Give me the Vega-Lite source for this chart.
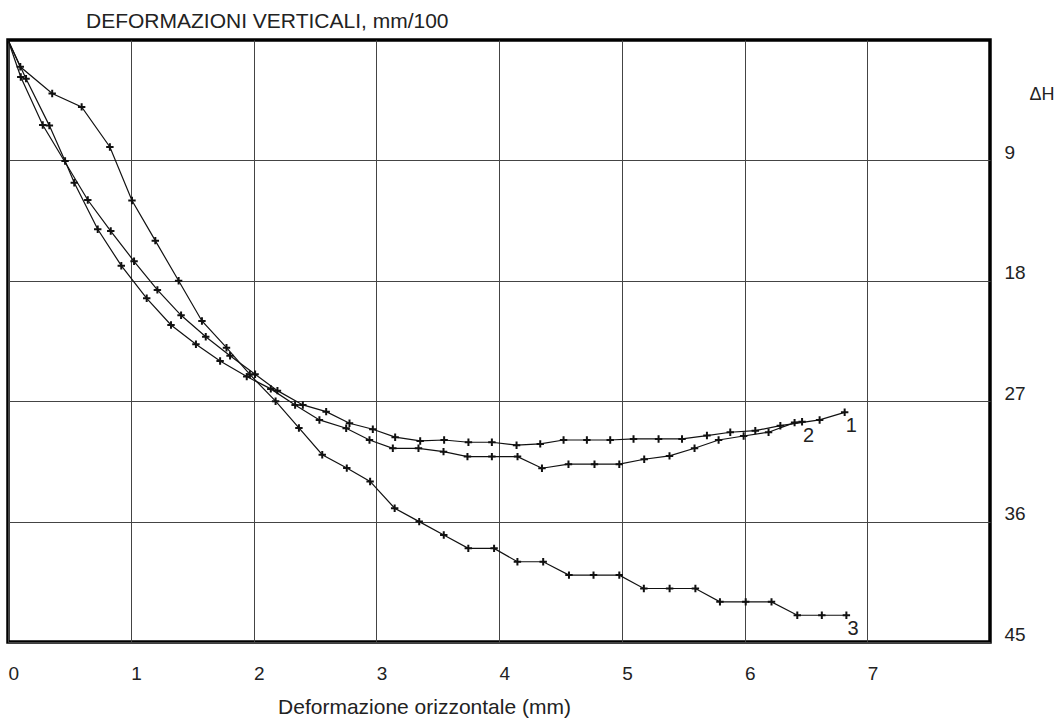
{
  "$schema": "https://vega.github.io/schema/vega-lite/v6.json",
  "width": 982,
  "height": 602,
  "autosize": {"type": "none"},
  "padding": {"left": 8, "top": 40, "right": 67, "bottom": 80},
  "background": "white",
  "config": {
    "font": "Liberation Sans",
    "view": {"stroke": "black", "strokeWidth": 3.5},
    "axis": {"domain": false, "ticks": false, "grid": true, "gridColor": "#444444", "gridWidth": 1, "labelColor": "#222222", "titleColor": "#222222", "labelFont": "Liberation Sans", "titleFont": "Liberation Sans", "titleFontWeight": "normal"}
  },
  "title": {
    "text": "DEFORMAZIONI VERTICALI, mm/100",
    "anchor": "start",
    "frame": "group",
    "fontSize": 21,
    "fontWeight": "normal",
    "color": "#222222",
    "font": "Liberation Sans",
    "baseline": "alphabetic",
    "dx": 78,
    "dy": 24,
    "offset": 13
  },
  "data": {
    "values": [
      {"s": "3", "i": 0, "x": 0, "y": 0, "p": false},
      {"s": "3", "i": 1, "x": 0.10, "y": 2},
      {"s": "3", "i": 2, "x": 0.36, "y": 4},
      {"s": "3", "i": 3, "x": 0.60, "y": 5},
      {"s": "3", "i": 4, "x": 0.83, "y": 8},
      {"s": "3", "i": 5, "x": 1.01, "y": 12},
      {"s": "3", "i": 6, "x": 1.20, "y": 15},
      {"s": "3", "i": 7, "x": 1.39, "y": 18},
      {"s": "3", "i": 8, "x": 1.58, "y": 21},
      {"s": "3", "i": 9, "x": 1.78, "y": 23},
      {"s": "3", "i": 10, "x": 1.97, "y": 25},
      {"s": "3", "i": 11, "x": 2.18, "y": 27},
      {"s": "3", "i": 12, "x": 2.37, "y": 29},
      {"s": "3", "i": 13, "x": 2.56, "y": 31},
      {"s": "3", "i": 14, "x": 2.76, "y": 32},
      {"s": "3", "i": 15, "x": 2.95, "y": 33},
      {"s": "3", "i": 16, "x": 3.15, "y": 35},
      {"s": "3", "i": 17, "x": 3.35, "y": 36},
      {"s": "3", "i": 18, "x": 3.55, "y": 37},
      {"s": "3", "i": 19, "x": 3.75, "y": 38},
      {"s": "3", "i": 20, "x": 3.96, "y": 38},
      {"s": "3", "i": 21, "x": 4.15, "y": 39},
      {"s": "3", "i": 22, "x": 4.36, "y": 39},
      {"s": "3", "i": 23, "x": 4.57, "y": 40},
      {"s": "3", "i": 24, "x": 4.77, "y": 40},
      {"s": "3", "i": 25, "x": 4.98, "y": 40},
      {"s": "3", "i": 26, "x": 5.18, "y": 41},
      {"s": "3", "i": 27, "x": 5.39, "y": 41},
      {"s": "3", "i": 28, "x": 5.60, "y": 41},
      {"s": "3", "i": 29, "x": 5.80, "y": 42},
      {"s": "3", "i": 30, "x": 6.01, "y": 42},
      {"s": "3", "i": 31, "x": 6.22, "y": 42},
      {"s": "3", "i": 32, "x": 6.43, "y": 43},
      {"s": "3", "i": 33, "x": 6.63, "y": 43},
      {"s": "3", "i": 34, "x": 6.83, "y": 43, "lab": "3"},

      {"s": "2", "i": 0, "x": 0, "y": 0, "p": false},
      {"s": "2", "i": 1, "x": 0.147, "y": 2.89},
      {"s": "2", "i": 2, "x": 0.337, "y": 6.40},
      {"s": "2", "i": 3, "x": 0.465, "y": 9.04},
      {"s": "2", "i": 4, "x": 0.540, "y": 10.67},
      {"s": "2", "i": 5, "x": 0.731, "y": 14.15},
      {"s": "2", "i": 6, "x": 0.923, "y": 16.87},
      {"s": "2", "i": 7, "x": 1.130, "y": 19.31},
      {"s": "2", "i": 8, "x": 1.328, "y": 21.30},
      {"s": "2", "i": 9, "x": 1.531, "y": 22.74},
      {"s": "2", "i": 10, "x": 1.728, "y": 24.0},
      {"s": "2", "i": 11, "x": 1.945, "y": 25.16},
      {"s": "2", "i": 12, "x": 2.141, "y": 26.08},
      {"s": "2", "i": 13, "x": 2.339, "y": 27.28},
      {"s": "2", "i": 14, "x": 2.537, "y": 28.40},
      {"s": "2", "i": 15, "x": 2.755, "y": 29.02},
      {"s": "2", "i": 16, "x": 2.945, "y": 29.90},
      {"s": "2", "i": 17, "x": 3.135, "y": 30.52},
      {"s": "2", "i": 18, "x": 3.344, "y": 30.52},
      {"s": "2", "i": 19, "x": 3.548, "y": 30.77},
      {"s": "2", "i": 20, "x": 3.743, "y": 31.14},
      {"s": "2", "i": 21, "x": 3.942, "y": 31.14},
      {"s": "2", "i": 22, "x": 4.151, "y": 31.14},
      {"s": "2", "i": 23, "x": 4.350, "y": 32.01},
      {"s": "2", "i": 24, "x": 4.566, "y": 31.71},
      {"s": "2", "i": 25, "x": 4.778, "y": 31.71},
      {"s": "2", "i": 26, "x": 4.980, "y": 31.71},
      {"s": "2", "i": 27, "x": 5.183, "y": 31.34},
      {"s": "2", "i": 28, "x": 5.389, "y": 31.09},
      {"s": "2", "i": 29, "x": 5.593, "y": 30.52},
      {"s": "2", "i": 30, "x": 5.789, "y": 29.90},
      {"s": "2", "i": 31, "x": 5.993, "y": 29.60},
      {"s": "2", "i": 32, "x": 6.196, "y": 29.32},
      {"s": "2", "i": 33, "x": 6.408, "y": 28.60},
      {"s": "2", "i": 34, "x": 6.469, "y": 28.53, "lab": "2"},

      {"s": "1", "i": 0, "x": 0, "y": 0, "p": false},
      {"s": "1", "i": 1, "x": 0.104, "y": 2.77},
      {"s": "1", "i": 2, "x": 0.283, "y": 6.35},
      {"s": "1", "i": 3, "x": 0.650, "y": 11.96},
      {"s": "1", "i": 4, "x": 0.837, "y": 14.28},
      {"s": "1", "i": 5, "x": 1.027, "y": 16.54},
      {"s": "1", "i": 6, "x": 1.217, "y": 18.68},
      {"s": "1", "i": 7, "x": 1.410, "y": 20.58},
      {"s": "1", "i": 8, "x": 1.611, "y": 22.18},
      {"s": "1", "i": 9, "x": 1.809, "y": 23.60},
      {"s": "1", "i": 10, "x": 2.013, "y": 24.99},
      {"s": "1", "i": 11, "x": 2.195, "y": 26.21},
      {"s": "1", "i": 12, "x": 2.402, "y": 27.28},
      {"s": "1", "i": 13, "x": 2.592, "y": 27.78},
      {"s": "1", "i": 14, "x": 2.782, "y": 28.65},
      {"s": "1", "i": 15, "x": 2.972, "y": 29.10},
      {"s": "1", "i": 16, "x": 3.154, "y": 29.69},
      {"s": "1", "i": 17, "x": 3.358, "y": 29.97},
      {"s": "1", "i": 18, "x": 3.553, "y": 29.90},
      {"s": "1", "i": 19, "x": 3.751, "y": 30.07},
      {"s": "1", "i": 20, "x": 3.942, "y": 30.07},
      {"s": "1", "i": 21, "x": 4.143, "y": 30.29},
      {"s": "1", "i": 22, "x": 4.336, "y": 30.19},
      {"s": "1", "i": 23, "x": 4.526, "y": 29.90},
      {"s": "1", "i": 24, "x": 4.716, "y": 29.90},
      {"s": "1", "i": 25, "x": 4.906, "y": 29.90},
      {"s": "1", "i": 26, "x": 5.096, "y": 29.82},
      {"s": "1", "i": 27, "x": 5.300, "y": 29.82},
      {"s": "1", "i": 28, "x": 5.491, "y": 29.82},
      {"s": "1", "i": 29, "x": 5.694, "y": 29.57},
      {"s": "1", "i": 30, "x": 5.884, "y": 29.32},
      {"s": "1", "i": 31, "x": 6.088, "y": 29.20},
      {"s": "1", "i": 32, "x": 6.292, "y": 28.83},
      {"s": "1", "i": 33, "x": 6.612, "y": 28.40},
      {"s": "1", "i": 34, "x": 6.816, "y": 27.83, "lab": "1"}
    ]
  },
  "encoding": {
    "x": {
      "field": "x", "type": "quantitative",
      "scale": {"domain": [0, 8], "nice": false, "zero": false},
      "axis": {
        "values": [0, 1, 2, 3, 4, 5, 6, 7],
        "title": "Deformazione orizzontale (mm)",
        "titleFontSize": 21,
        "titleX": 416,
        "titleY": 71,
        "titleAlign": "center",
        "titleBaseline": "alphabetic",
        "labelFontSize": 19,
        "labelAlign": "left",
        "labelBaseline": "top",
        "labelPadding": 22,
        "labelFlush": false
      }
    },
    "y": {
      "field": "y", "type": "quantitative",
      "scale": {"domain": [0, 45], "reverse": true, "nice": false, "zero": false},
      "axis": {
        "orient": "right",
        "values": [9, 18, 27, 36, 45],
        "title": "ΔH",
        "titleFontSize": 18,
        "titleAngle": 0,
        "titleAlign": "left",
        "titleBaseline": "alphabetic",
        "titleX": 39,
        "titleY": 59,
        "labelFontSize": 19,
        "labelAlign": "left",
        "labelBaseline": "alphabetic",
        "labelOffset": -2,
        "labelPadding": 14,
        "labelFlush": false
      }
    }
  },
  "layer": [
    {
      "mark": {"type": "line", "color": "#111111", "strokeWidth": 1.2},
      "encoding": {"detail": {"field": "s"}, "order": {"field": "i", "type": "quantitative"}}
    },
    {
      "transform": [{"filter": "datum.p !== false"}],
      "mark": {"type": "point", "shape": "M-1,0L1,0M0,-1L0,1", "filled": false, "stroke": "#111111", "strokeWidth": 2, "size": 55, "opacity": 1}
    },
    {
      "transform": [{"filter": "datum.lab != null"}],
      "mark": {"type": "text", "align": "left", "baseline": "alphabetic", "dx": 1, "dy": 20, "fontSize": 20, "color": "#222222", "font": "Liberation Sans"},
      "encoding": {"text": {"field": "lab"}}
    }
  ]
}
